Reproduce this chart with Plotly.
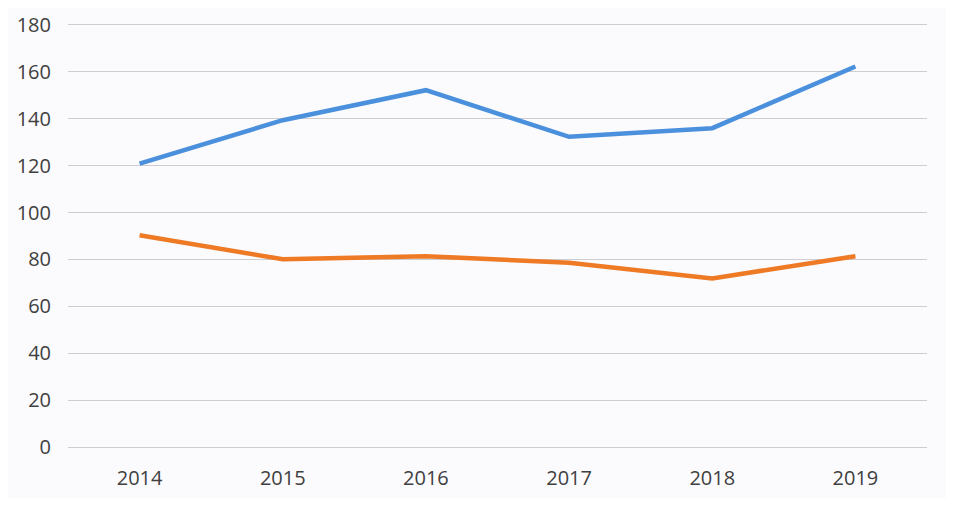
import plotly.graph_objects as go

years = ["2014", "2015", "2016", "2017", "2018", "2019"]
series_blue = [120.9, 139.4, 152.2, 132.3, 136.0, 162.3]
series_orange = [90.3, 80.1, 81.4, 78.6, 71.9, 81.4]
y_ticks = [0, 20, 40, 60, 80, 100, 120, 140, 160, 180]

grid = "#cdcdd2"

fig = go.Figure()
fig.add_trace(go.Scatter(x=years, y=series_blue, mode="lines",
                         line=dict(color="#4a90dc", width=4.5), name="A"))
fig.add_trace(go.Scatter(x=years, y=series_orange, mode="lines",
                         line=dict(color="#ee7a25", width=4.5), name="B"))

fig.update_layout(
    width=938, height=490,
    margin=dict(l=60, r=19, t=17, b=51),
    paper_bgcolor="#fbfbfd", plot_bgcolor="#fbfbfd",
    showlegend=False,
    font=dict(family="Open Sans", size=20, color="#404040"),
)
fig.update_xaxes(type="category", range=[-0.5, 5.5], showgrid=False,
                 showline=True, mirror=True, linecolor=grid, linewidth=1,
                 zeroline=False, ticks="", ticklabelstandoff=13,
                 automargin=False)
fig.update_yaxes(range=[0, 180], tickvals=y_ticks, showgrid=True,
                 gridcolor=grid, gridwidth=1, zeroline=False,
                 showline=False, ticks="", ticklabelstandoff=16,
                 automargin=False)

fig.write_html("out.html")
